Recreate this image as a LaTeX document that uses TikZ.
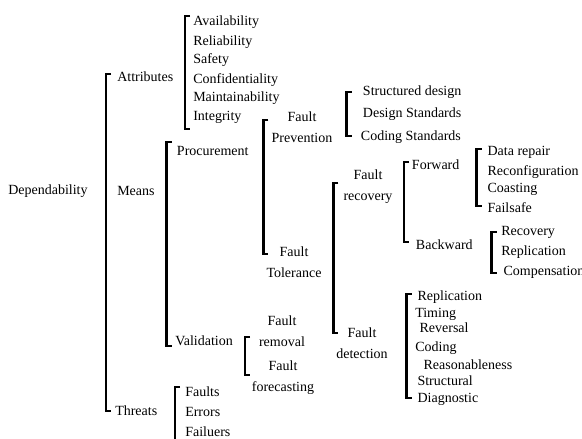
\documentclass[tikz,border=0pt]{standalone}
\usepackage{fontspec}
\setmainfont{Liberation Serif}
\usetikzlibrary{positioning}
\tikzset{
  brk/.style={
    line width=2pt,
    line cap=butt,
    line join=miter
  },
  leaf/.style={
    anchor=west,
    inner sep=0pt,
    text height=0.7em,
    text depth=0.2em
  },
  pair/.style={
    align=center,
    inner sep=0pt
  },
  every node/.style={
    font=\fontsize{10.5}{15.5}\selectfont
  }
}

\begin{document}
\begin{tikzpicture}[x=0.75pt,y=-0.75pt]
\useasboundingbox (0,0) rectangle (582,439);
% brackets
\foreach \x/\ya/\yb in {106/74/411, 185/16/129, 166.7/142/346, 263.3/120/254,
    346.7/92/136, 333.3/183/333, 404/162/242, 476.7/149/206, 491.7/232/273,
    406.7/294/398, 245/337/375, 175/387/455}{
  \draw[brk] (\x+5,\ya) -- (\x,\ya) -- (\x,\yb) -- (\x+5,\yb);}
% root and first level
\node[leaf] (dep) at (8,191) {Dependability};
\node[leaf] (attr) at (117,78) {Attributes};
\node[leaf] (means) at (117,192) {Means};
\node[leaf] (threats) at (115,412) {Threats};
% attributes
\node[leaf] (avail) at (193,21.7) {Availability};
\node[leaf] (reli) at (193,41.7) {Reliability};
\node[leaf] (safety) at (193,60) {Safety};
\node[leaf] (conf) at (193,80) {Confidentiality};
\node[leaf] (maint) at (193,97.7) {Maintainability};
\node[leaf] (integ) at (193,117.3) {Integrity};
% means
\node[leaf] (proc) at (176.7,151.7) {Procurement};
\node[leaf] (valid) at (175,341.7) {Validation};
\node[pair] (fprev) at (302,127.5) {Fault\\Prevention};
\node[pair] (ftol) at (294,262) {Fault\\Tolerance};
\node[leaf] (strd) at (362.7,91.7) {Structured design};
\node[leaf] (dstd) at (362.7,114) {Design Standards};
\node[leaf] (cstd) at (360.7,136.7) {Coding Standards};
\node[pair] (frec) at (368,186.5) {Fault\\recovery};
\node[pair] (fdet) at (362,343) {Fault\\detection};
\node[leaf] (fwd) at (411.7,165.7) {Forward};
\node[leaf] (bwd) at (415.7,245.7) {Backward};
\node[leaf] (drep) at (487.3,152.3) {Data repair};
\node[leaf] (reconf) at (487.3,171.7) {Reconfiguration};
\node[leaf] (coast) at (487.3,189.3) {Coasting};
\node[leaf] (fsafe) at (487.3,209.3) {Failsafe};
\node[leaf] (recov) at (501,232.3) {Recovery};
\node[leaf] (brepl) at (501,251.7) {Replication};
\node[leaf] (comp) at (503.3,271.7) {Compensation};
% detection
\node[leaf] (drepl) at (417.3,297.3) {Replication};
\node[leaf] (timing) at (415,314) {Timing};
\node[leaf] (revers) at (419.3,329.3) {Reversal};
\node[leaf] (coding) at (415,347.7) {Coding};
\node[leaf] (reason) at (423.3,365.7) {Reasonableness};
\node[leaf] (struc) at (417.3,381.7) {Structural};
\node[leaf] (diagn) at (417.3,399.3) {Diagnostic};
% validation
\node[pair] (frem) at (282,331.5) {Fault\\removal};
\node[pair] (ffor) at (283,377.8) {Fault\\forecasting};
% threats
\node[leaf] (faults) at (185,393.3) {Faults};
\node[leaf] (errors) at (185,413.3) {Errors};
\node[leaf] (failuers) at (185,433.3) {Failuers};
\end{tikzpicture}
\end{document}
